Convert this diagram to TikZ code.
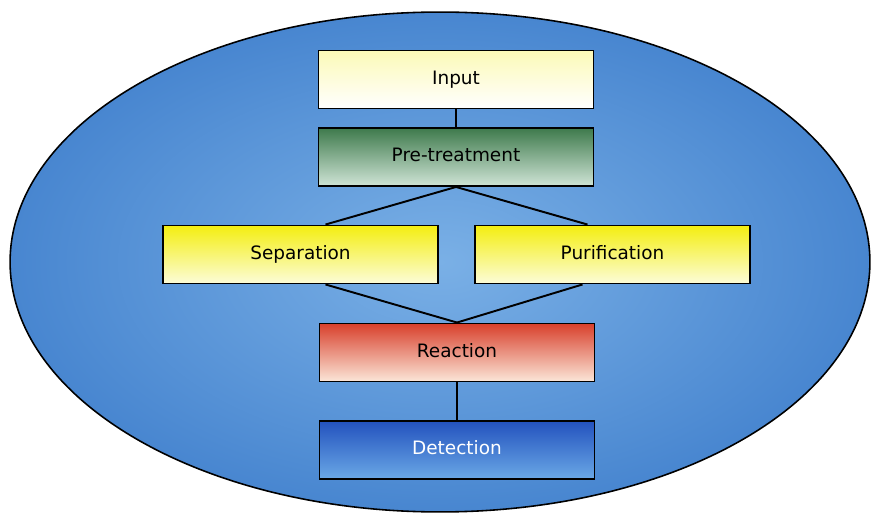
\documentclass[tikz,border=0pt]{standalone}
\usepackage{fontspec}
\setmainfont{DejaVu Sans}
\usepackage{tikz}
\usetikzlibrary{positioning}
\definecolor{skyin}{HTML}{7AB0E6}
\definecolor{skyout}{HTML}{4886D0}
\definecolor{greentop}{HTML}{3E7A4C}
\definecolor{greenbot}{HTML}{CFE4D6}
\definecolor{yellowtop}{HTML}{F4EE10}
\definecolor{yellowbot}{HTML}{FCFCD8}
\definecolor{redtop}{HTML}{D8402C}
\definecolor{redbot}{HTML}{FBE6D8}
\definecolor{bluetop}{HTML}{2352BE}
\definecolor{bluebot}{HTML}{6AA8E6}

\begin{document}
\begin{tikzpicture}
[x=0.02cm,y=-0.02cm,
stage/.style={rectangle,draw=black,line width=1.1pt,minimum width=5.5cm,minimum height=1.16cm,inner sep=0pt,text height=1.5ex,text depth=0.5ex,font=\fontsize{10.5}{12}\selectfont},
light/.style={stage,top color=yellowtop!30,bottom color=white},
green/.style={stage,top color=greentop,bottom color=greenbot},
yellow/.style={stage,top color=yellowtop,bottom color=yellowbot},
red/.style={stage,top color=redtop,bottom color=redbot},
blue/.style={stage,top color=bluetop,bottom color=bluebot,text=white},
link/.style={line width=1.1pt}]
\clip (0,0) rectangle (876,513);
\fill[white] (0,0) rectangle (876,513);
\draw[line width=0.9pt,inner color=skyin,outer color=skyout] (440,262) ellipse [x radius=8.6cm,y radius=5cm];

\node[light] (in) at (456,79.5) {Input};
\node[green] (pre) at (456,157) {Pre-treatment};
\node[yellow] (sep) at (300.5,254.5) {Separation};
\node[yellow] (pur) at (612.5,254.5) {Purification};
\node[red] (rea) at (457,352.5) {Reaction};
\node[blue] (det) at (457,450) {Detection};

\draw [-,link] (in) -- (pre);
\draw [-,link] (pre.south) -- ([xshift=0.5cm]sep.north);
\draw [-,link] (pre.south) -- ([xshift=-0.5cm]pur.north);
\draw [-,link] ([xshift=0.5cm]sep.south) -- (rea.north);
\draw [-,link] ([xshift=-0.6cm]pur.south) -- (rea.north);
\draw [-,link] (rea) -- (det);
\end{tikzpicture}
\end{document}
